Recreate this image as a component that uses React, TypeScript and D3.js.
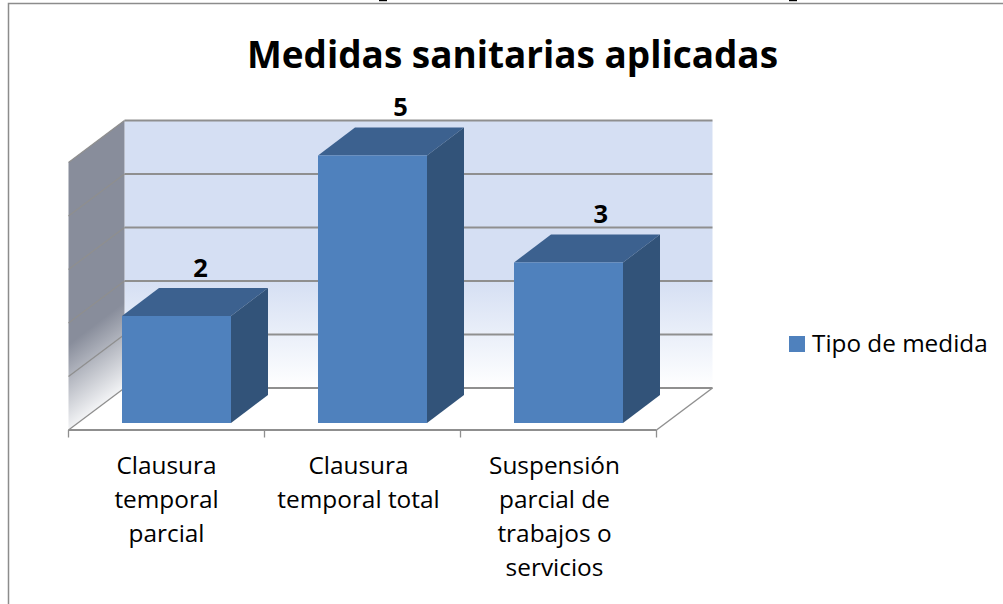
import React from "react";
import * as d3 from "d3";

const titleText = "Medidas sanitarias aplicadas";
const categories = ["Clausura temporal parcial", "Clausura temporal total", "Suspensión parcial de trabajos o servicios"];
const categoryLines = [["Clausura", "temporal", "parcial"], ["Clausura", "temporal total"], ["Suspensión", "parcial de", "trabajos o", "servicios"]];
const values = [2, 5, 3];
const gridTicks = [0, 1, 2, 3, 4, 5];
const seriesName = "Tipo de medida";

const W = 1003, H = 604;
const font = "'Open Sans', sans-serif";
const dx = 56, dy = 42;        // wall depth
const barDx = 37, barDy = 28;  // bar depth
const bw = 109;
const tickX = d3.scaleLinear().domain([0, 3]).range([68.5, 656.5]);
const wallY = d3.scaleLinear().domain([0, 5]).range([388, 120.5]);
const barY = d3.scaleLinear().domain([0, 5]).range([423, 155.5]);
const line = d3.line();
const gridColor = "#8f8f8f";

export default function App() {
  const barLeft = (i: number) => tickX(i) + 53.5;
  const labelX = (i: number) => (tickX(i) + tickX(i + 1)) / 2 - (i === 0 ? 0 : 4);
  return (
    <svg width={W} height={H} style={{ position: "absolute", left: 0, top: 0, background: "#fff" }} fontFamily={font}>
      <defs>
        <linearGradient id="back" x1="0" y1="0" x2="0" y2="1">
          <stop offset="0" stopColor="#d5dff3" />
          <stop offset="0.6" stopColor="#d5dff3" />
          <stop offset="1" stopColor="#ffffff" />
        </linearGradient>
        <linearGradient id="side" gradientUnits="userSpaceOnUse" x1="68" y1="345" x2="109" y2="399">
          <stop offset="0" stopColor="#888d9b" />
          <stop offset="1" stopColor="#f2f3f5" />
        </linearGradient>
      </defs>
      <path d="M8.5,604 V3.5 H1003" fill="none" stroke="#8c8c8c" strokeWidth={1.5} />
      <rect x={379} y={0} width={8} height={1.2} fill="#000" />
      <rect x={789} y={0} width={8} height={1.2} fill="#000" />
      <text x={512.5} y={68} textAnchor="middle" fontSize={38} fontWeight={700} fill="#000" textLength={531} lengthAdjust="spacingAndGlyphs">{titleText}</text>

      <rect x={tickX(0) + dx} y={wallY(5)} width={588} height={wallY(0) - wallY(5)} fill="url(#back)" />
      <path d={line([[tickX(0), wallY(5) + dy], [tickX(0) + dx, wallY(5)], [tickX(0) + dx, wallY(0)], [tickX(0), wallY(0) + dy]]) + "Z"} fill="url(#side)" />
      {gridTicks.map((t) => (
        <g key={t}>
          <path d={line([[tickX(0), wallY(t) + dy], [tickX(0) + dx, wallY(t)]]) || ""} fill="none" stroke={gridColor} strokeWidth={1.3} />
          <path d={line([[tickX(0) + dx, wallY(t)], [tickX(3) + dx, wallY(t)]]) || ""} fill="none" stroke={gridColor} strokeWidth={2} />
        </g>
      ))}
      <path d={line([[tickX(3), wallY(0) + dy], [tickX(3) + dx, wallY(0)]]) || ""} fill="none" stroke={gridColor} strokeWidth={1.4} />
      <path d={line([[tickX(0), wallY(0) + dy], [tickX(3), wallY(0) + dy]]) || ""} fill="none" stroke={gridColor} strokeWidth={2} />
      {[0, 1, 2, 3].map((t) => (
        <line key={t} x1={tickX(t)} x2={tickX(t)} y1={wallY(0) + dy} y2={wallY(0) + dy + 7.5} stroke={gridColor} strokeWidth={1.3} />
      ))}

      {values.map((v, i) => {
        const l = barLeft(i), r = l + bw, t = barY(v), b = barY(0);
        return (
          <g key={categories[i]}>
            <path d={line([[l, t], [l + barDx, t - barDy], [r + barDx, t - barDy], [r, t]]) + "Z"} fill="#3c618f" />
            <path d={line([[r, t], [r + barDx, t - barDy], [r + barDx, b - barDy], [r, b]]) + "Z"} fill="#325379" />
            <rect x={l} y={t} width={bw} height={b - t} fill="#4f81bd" />
            <text x={l + 78.5 + 4.15 * i} y={t - 39.5} textAnchor="middle" fontSize={25.5} fontWeight={700} fill="#000">{v}</text>
          </g>
        );
      })}

      {categoryLines.map((ls, i) => (
        <text key={i} textAnchor="middle" fontSize={24.4} fill="#000">
          {ls.map((s, j) => (
            <tspan key={j} x={labelX(i)} y={473.5 + j * 34}>{s}</tspan>
          ))}
        </text>
      ))}

      <rect x={789} y={336} width={16} height={16} fill="#4f81bd" />
      <text x={812} y={352} fontSize={24.3} fill="#000">{seriesName}</text>
    </svg>
  );
}
